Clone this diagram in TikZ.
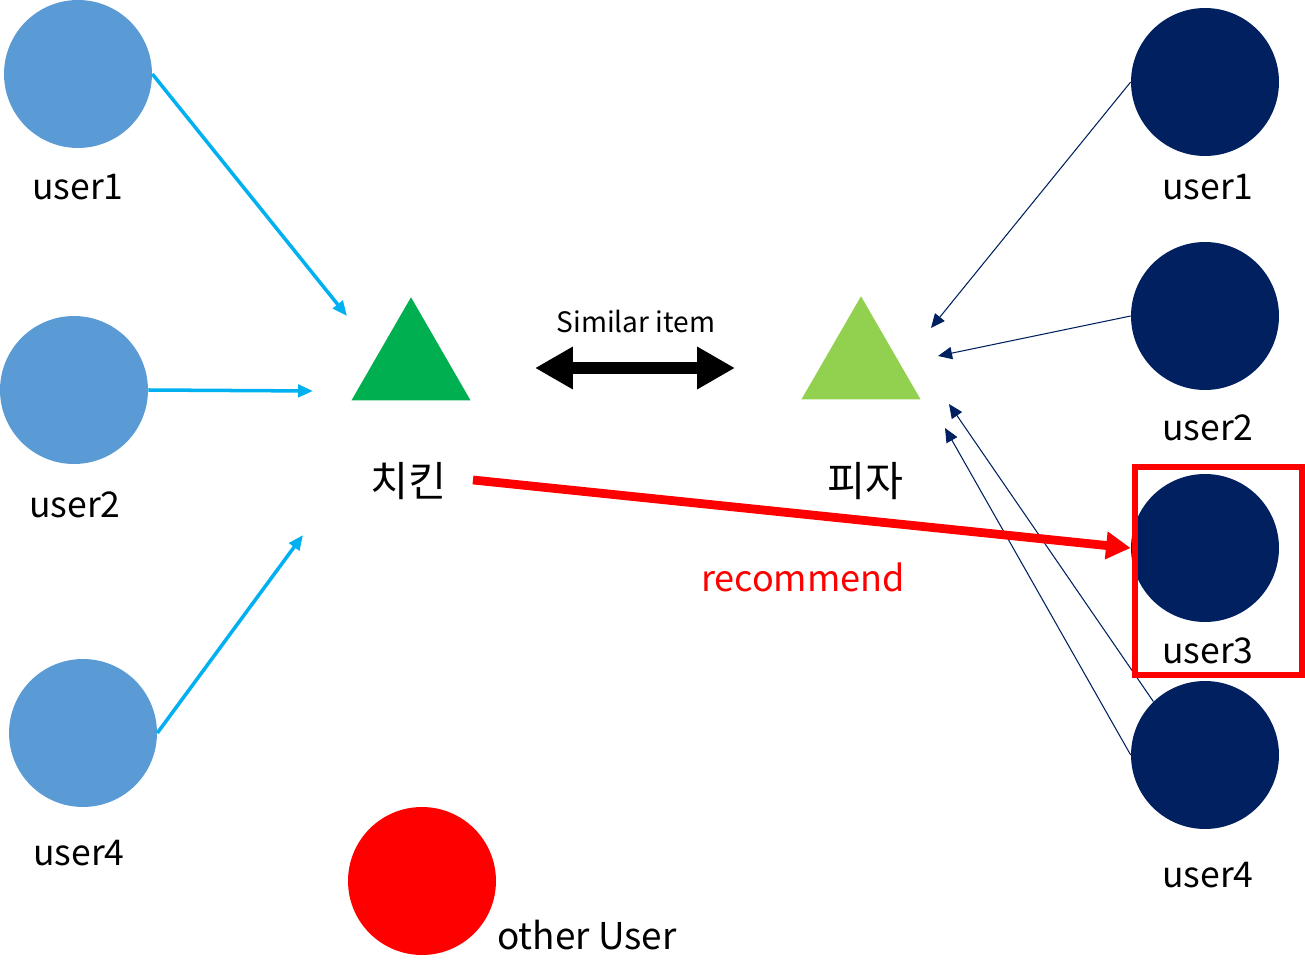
\documentclass[tikz,border=0pt]{standalone}
\usepackage{fontspec}
\setmainfont{Noto Sans CJK KR}
\usetikzlibrary{arrows.meta,shapes.geometric}
\definecolor{lblue}{HTML}{5B9BD5}
\definecolor{navy}{HTML}{002060}
\definecolor{skyb}{HTML}{00B0F0}
\definecolor{dgreen}{HTML}{00B050}
\definecolor{lgreen}{HTML}{92D050}
\definecolor{rred}{HTML}{FF0000}
\tikzset{
  user/.style={circle,inner sep=0pt,minimum size=2.96cm},
  item/.style={regular polygon,regular polygon sides=3,inner sep=0pt,minimum size=2.75cm},
  txt/.style={font=\fontsize{20.2}{24}\selectfont},
  ktxt/.style={font=\fontsize{23.5}{27}\selectfont},
  rate/.style={skyb,line width=2pt,-{Triangle[length=8.5pt,width=7pt]}},
  rateb/.style={navy,line width=0.6pt,-{Triangle[length=8pt,width=7pt]}}
}
\begin{document}
\begin{tikzpicture}[x=0.02cm,y=-0.02cm]
\useasboundingbox (0,0) rectangle (1305,979);

\node [user,fill=lblue] (L1) at (78,74) {};
\node [user,fill=lblue] (L2) at (74,390) {};
\node [user,fill=lblue] (L4) at (83,733) {};
\node [txt] (l1) at (78,187) {user1};
\node [txt] (l2) at (75,505) {user2};
\node [txt] (l4) at (79,853) {user4};

\node [user,fill=navy] (R1) at (1205,82) {};
\node [user,fill=navy] (R2) at (1205,316) {};
\node [user,fill=navy] (R3) at (1205,548) {};
\node [user,fill=navy] (R4) at (1205,755) {};
\node [txt] (r1) at (1208,187) {user1};
\node [txt] (r2) at (1208,428) {user2};
\node [txt] (r3) at (1208,651) {user3};
\node [txt] (r4) at (1208,875) {user4};

\node [user,fill=rred] (O) at (422,881) {};
\node [txt,anchor=west,font=\fontsize{21}{25}\selectfont] (o) at (491,935) {other User};

\node [item,fill=dgreen] (chicken) at (411,366) {};
\node [item,fill=lgreen] (pizza) at (861,365) {};
\node [ktxt] (ck) at (408,481) {치킨};
\node [ktxt] (pz) at (865,481) {피자};
\node [font=\fontsize{16}{19}\selectfont] (sim) at (636,321) {Similar item};
\node [txt,text=rred,font=\fontsize{20.5}{24}\selectfont] (rec) at (803,577) {recommend};

\coordinate (a1) at (347,316);
\coordinate (a2) at (313,391);
\coordinate (a4) at (303,535);
\draw [rate] (L1.east) -- (a1);
\draw [rate] (L2.east) -- (a2);
\draw [rate] (L4.east) -- (a4);

\coordinate (b1) at (931,328);
\coordinate (b2) at (938,356);
\coordinate (b3) at (949,404);
\coordinate (b4) at (945,428);
\draw [rateb] (R1.west) -- (b1);
\draw [rateb] (R2.west) -- (b2);
\draw [rateb] (R4.134) -- (b3);
\draw [rateb] (R4.west) -- (b4);

\coordinate (s1) at (535,368);
\coordinate (s2) at (735,368);
\draw [line width=6.8pt,{Triangle[length=21.5pt,width=22.7pt]}-{Triangle[length=21.5pt,width=22.7pt]}] (s1) -- (s2);

\coordinate (c0) at (473,480);
\draw [rred,line width=5pt,-{Triangle[length=14pt,width=15pt]}] (c0) -- (R3.west);
\draw [rred,line width=3pt] (1135,467) rectangle (1302,675);

\end{tikzpicture}
\end{document}
